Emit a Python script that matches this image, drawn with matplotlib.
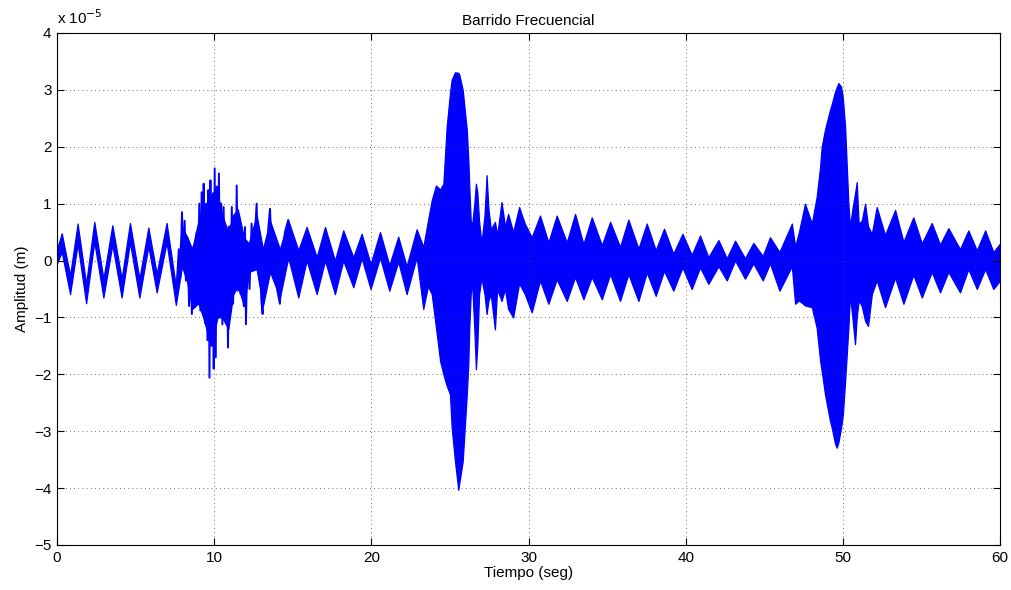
import numpy as np
import matplotlib
matplotlib.use("Agg")
import matplotlib.pyplot as plt

plt.rcParams['font.family'] = ['Liberation Sans', 'DejaVu Sans']

# envelope of the response, amplitude in units of 1e-5 m
# slow oscillation at the start (0 - 7.6 s)
t_a = [0.0, 0.3, 0.83, 1.31, 1.85, 2.37, 2.95, 3.52, 4.11, 4.64, 5.24, 5.81, 6.34, 6.97, 7.56]
hi_a = [0.2, 0.48, -0.26, 0.65, -0.41, 0.68, -0.32, 0.62, -0.32, 0.66, -0.32, 0.58, -0.23, 0.66, -0.45]
lo_a = [-0.05, 0.15, -0.59, 0.29, -0.75, 0.33, -0.65, 0.28, -0.65, 0.32, -0.65, 0.25, -0.56, 0.32, -0.78]

# core of the irregular part (7.9 - 14.2 s)
t_b = [7.95, 8.3, 8.6, 9.0, 9.3, 9.6, 9.9, 10.2, 10.5, 10.9, 11.2, 11.5, 11.9, 12.2, 12.7,
       13.1, 13.55, 14.18]
hi_b = [0.6, 0.4, 0.2, 0.7, 1.0, 1.0, 1.2, 1.2, 0.8, 0.5, 0.8, 0.9, 0.4, 0.3, 0.8, 0.2, 0.7, 0.2]
lo_b = [-0.1, -0.4, -0.85, -0.75, -1.0, -1.3, -1.4, -1.0, -1.0, -1.2, -0.6, -0.45, -0.8, -0.2,
        -0.15, -0.8, -0.2, -0.65]

# spikes of the irregular part
spike_t = [7.56, 7.75, 7.85, 7.95, 8.05, 8.12, 8.2, 8.3, 8.4, 8.5, 8.58, 8.68, 8.78, 8.88, 8.96,
           9.05, 9.12, 9.2, 9.28, 9.33, 9.42, 9.5, 9.57, 9.63, 9.7, 9.76, 9.83, 9.9, 9.97, 10.03,
           10.1, 10.17, 10.24, 10.3, 10.38, 10.45, 10.52, 10.6, 10.7, 10.78, 10.88, 10.96, 11.03,
           11.12, 11.2, 11.3, 11.38, 11.43, 11.52, 11.6, 11.68, 11.78, 11.88, 11.96, 12.02, 12.12,
           12.25, 12.38, 12.5, 12.6, 12.7, 12.8, 12.9, 13.0, 13.08, 13.2, 13.35, 13.45, 13.55,
           13.7, 13.85, 14.0, 14.18, 14.35, 14.5, 14.71]
spike_y = [-0.7, 0.2, -0.3, 0.85, -0.1, 0.7, -0.35, 0.4, -0.8, 0.1, -0.94, 0.24, -0.82, 0.5, -0.6,
           1.0, -0.88, 1.2, -0.6, 1.35, -1.1, 1.0, -1.4, 1.24, -2.06, 1.41, -1.5, 1.1, -1.9, 1.62,
           -1.7, 1.3, -1.0, 1.53, -0.9, 1.0, -1.12, 0.94, -0.8, 0.5, -1.53, 0.6, -0.7,
           0.94, -0.76, 0.7, -0.4, 1.32, -0.53, 0.76, -0.59, 0.5, -0.8, 0.59, -1.12, 0.3,
           -0.5, 0.65, -0.12, 0.5, 1.0, -0.2, 0.3, -0.7, -0.94, 0.2, -0.2, 0.6, 0.91,
           -0.1, 0.2, -0.5, -0.76, 0.1, 0.5, 0.71]

# decaying oscillation before the first resonance (14.7 - 23.6 s)
t_c = [14.71, 15.35, 15.88, 16.52, 17.05, 17.68, 18.21, 18.85, 19.38, 19.95, 20.55, 21.14,
       21.71, 22.24, 22.88, 23.3, 23.6]
hi_c = [0.71, 0.18, 0.59, 0.06, 0.59, 0.0, 0.53, 0.06, 0.47, -0.06, 0.5, -0.08, 0.42, -0.1,
        0.55, 0.24, 0.7]
lo_c = [0.05, -0.65, 0.0, -0.59, 0.0, -0.59, 0.0, -0.47, 0.04, -0.5, 0.05, -0.53, -0.02,
        -0.59, 0.06, -0.85, -0.45]

# first resonance (23.8 - 26.4 s)
t_d = [23.84, 24.11, 24.37, 24.58, 24.79, 25.0, 25.11, 25.32, 25.53, 25.6, 25.81, 26.07,
       26.17, 26.23, 26.32, 26.4]
hi_d = [1.06, 1.32, 1.25, 1.35, 2.35, 2.94, 3.18, 3.31, 3.3, 3.26, 3.0, 2.3, 1.76, 1.3, 0.7, 0.6]
lo_d = [-0.59, -1.18, -1.76, -2.0, -2.2, -2.35, -2.94, -3.53, -4.03, -3.9, -3.53, -2.35,
        -1.8, -1.18, -0.59, -0.35]

# after the first resonance (26.5 - 30.2 s)
t_e = [26.55, 26.65, 26.74, 26.85, 27.0, 27.2, 27.33, 27.45, 27.6, 27.86, 28.0, 28.28, 28.5,
       28.7, 29.02, 29.4, 29.76, 30.2]
hi_e = [1.0, 1.35, 1.2, 0.7, 0.3, 0.8, 1.5, 0.9, 0.55, 0.68, 0.45, 1.03, 0.6, 0.82, 0.5,
        0.94, 0.65, 0.41]
lo_e = [-1.2, -1.91, -1.5, -0.6, -0.3, -0.6, -0.94, -0.7, -0.6, -1.21, -0.5, -0.71, -0.5,
        -0.85, -1.0, -0.4, -0.59, -0.91]

# steady oscillation between resonances (30.7 - 46 s)
t_f = [30.73, 31.26, 31.79, 32.43, 32.96, 33.49, 34.02, 34.66, 35.19, 35.82, 36.35, 36.99,
       37.52, 38.09, 38.62, 39.21, 39.79, 40.38, 40.91, 41.44, 42.08, 42.61, 43.14, 43.77,
       44.30, 44.90, 45.36, 45.96]
hi_f = [0.79, 0.32, 0.79, 0.32, 0.82, 0.29, 0.76, 0.27, 0.68, 0.24, 0.72, 0.21, 0.65, 0.18,
        0.56, 0.12, 0.47, 0.1, 0.44, 0.06, 0.36, 0.04, 0.35, 0.04, 0.31, 0.08, 0.41, 0.15]
lo_f = [-0.35, -0.76, -0.33, -0.71, -0.29, -0.68, -0.29, -0.68, -0.24, -0.71, -0.24, -0.71,
        -0.21, -0.62, -0.18, -0.53, -0.12, -0.5, -0.12, -0.41, -0.1, -0.35, 0.0, -0.32, -0.05,
        -0.35, -0.05, -0.53]

# second resonance (46.7 - 50.5 s)
t_g = [46.75, 46.96, 47.2, 47.59, 48.02, 48.33, 48.55, 48.65, 48.86, 49.18, 49.29, 49.5,
       49.61, 49.71, 49.88, 50.0, 50.14, 50.35, 50.45]
hi_g = [0.65, 0.25, 0.5, 1.0, 0.65, 1.12, 1.65, 2.0, 2.3, 2.65, 2.75, 2.97, 3.05, 3.12, 3.06,
        2.85, 2.35, 0.99, 0.59]
lo_g = [-0.1, -0.76, -0.7, -0.79, -0.82, -1.18, -1.76, -1.94, -2.35, -2.82, -2.94, -3.22,
        -3.29, -3.2, -2.94, -2.7, -2.12, -1.18, -0.59]

# tail (50.6 - 60 s)
t_h = [50.6, 50.77, 50.88, 51.0, 51.2, 51.41, 51.6, 51.84, 52.15, 52.68, 53.32, 53.85, 54.48,
       55.02, 55.65, 56.18, 56.71, 57.45, 57.98, 58.52, 59.05, 59.57, 60.0]
hi_h = [0.9, 1.18, 1.38, 0.65, 0.7, 1.0, 0.6, 0.47, 0.94, 0.45, 0.89, 0.33, 0.76, 0.3, 0.66,
        0.28, 0.57, 0.2, 0.53, 0.18, 0.53, 0.15, 0.3]
lo_h = [-1.0, -1.47, -1.0, -0.7, -0.8, -1.06, -1.15, -0.59, -0.35, -0.82, -0.3, -0.76, -0.25,
        -0.65, -0.2, -0.56, -0.2, -0.56, -0.15, -0.5, -0.15, -0.5, -0.35]

x_ticks = [0, 10, 20, 30, 40, 50, 60]
y_ticks = [-5, -4, -3, -2, -1, 0, 1, 2, 3, 4]

blue = (0, 0, 1)

fig = plt.figure(figsize=(10.11, 5.9), dpi=100)
ax = fig.add_axes([0.0564, 0.0763, 0.9328, 0.8678])

# join the pieces into one band
t_all = np.array(t_a + t_b + t_c + t_d + t_e + t_f + t_g + t_h)
hi_all = np.array(hi_a + hi_b + hi_c + hi_d + hi_e + hi_f + hi_g + hi_h)
lo_all = np.array(lo_a + lo_b + lo_c + lo_d + lo_e + lo_f + lo_g + lo_h)
order = np.argsort(t_all, kind="stable")
ax.fill_between(t_all[order], lo_all[order], hi_all[order],
                color=blue, linewidth=0.9, edgecolor=blue)

ax.plot(spike_t, spike_y, color=blue, linewidth=1.4)

ax.set_xlim(0, 60)
ax.set_ylim(-5, 4)
ax.set_xticks(x_ticks)
ax.set_yticks(y_ticks)
ax.tick_params(direction='in', top=True, right=True, length=5, labelsize=11, pad=4)
ax.grid(True, color='0.25', linestyle=(0, (1, 4)), linewidth=0.6)
for s in ax.spines.values():
    s.set_linewidth(0.8)

ax.set_title('Barrido Frecuencial', fontsize=11, pad=6)
ax.set_xlabel('Tiempo (seg)', fontsize=11, labelpad=1)
ax.set_ylabel('Amplitud (m)', fontsize=11, labelpad=4)
fig.text(0.0564, 0.955, r'x 10$^{-5}$', fontsize=11, ha='left', va='bottom')

fig.savefig('out.png', dpi=100)
